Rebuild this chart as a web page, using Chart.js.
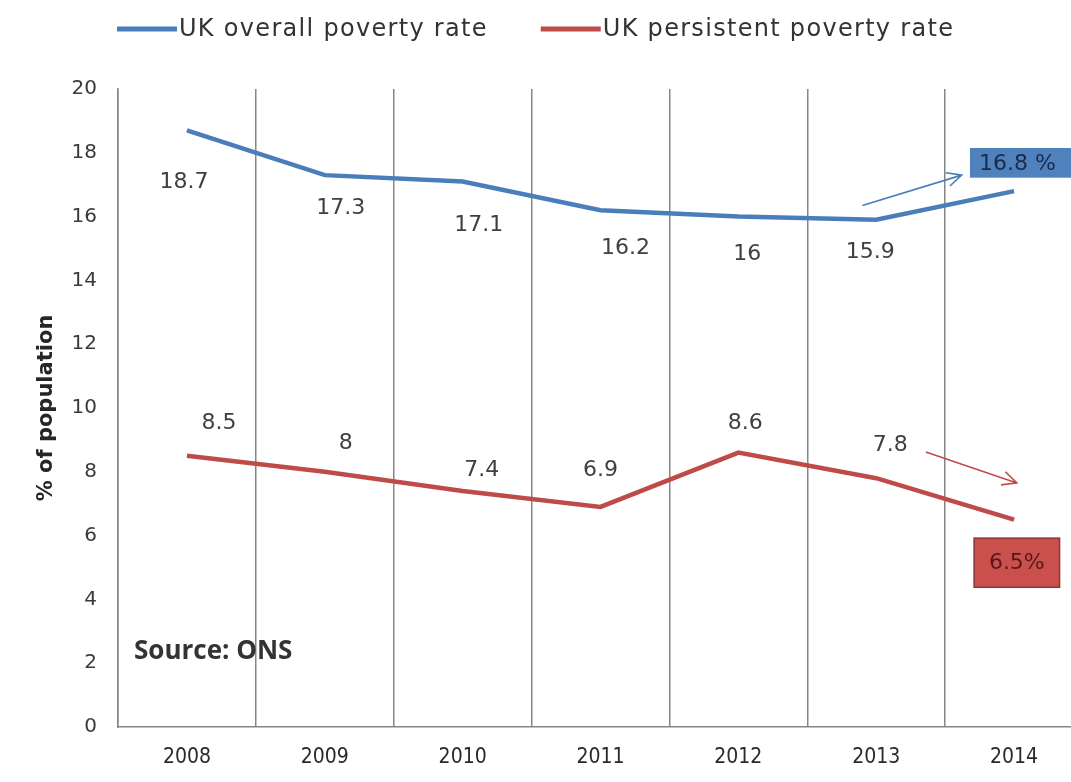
<!DOCTYPE html>
<html>
<head>
<meta charset="utf-8">
<title>UK poverty rates</title>
<script src="https://cdn.jsdelivr.net/npm/chart.js@4.4.1/dist/chart.umd.min.js"></script>
<style>
  body { margin: 0; background: #fff; overflow: hidden; }
  #wrap { width: 1090px; height: 782px; }
</style>
</head>
<body>
<div id="wrap"><canvas id="povertyChart" width="1090" height="782"></canvas></div>
<script>
// values
const years = ['2008', '2009', '2010', '2011', '2012', '2013', '2014']
const overallRate = [18.7, 17.3, 17.1, 16.2, 16, 15.9, 16.8]
const persistentRate = [8.5, 8, 7.4, 6.9, 8.6, 7.8, 6.5]
const yMin = 0
const yMax = 20
const yStep = 2

// label nudges (pixels) - excel labels were dragged by hand
const overallShift = [[-3, 52], [16, 33], [16, 44], [25, 38], [9, 38], [-6, 32], null]
const persistentShift = [[32, -33], [21, -29], [19, -21], [0, -37], [7, -29], [14, -33], null]

const BLUE = '#4a7ebb'
const RED = '#be4b48'
const GRID = '#868686'

function arrow(ctx, x1, y1, x2, y2, color){
    let ang = Math.atan2(y2 - y1, x2 - x1)
    let head = 16
    ctx.save()
    ctx.strokeStyle = color
    ctx.lineWidth = 1.6
    ctx.beginPath()
    ctx.moveTo(x1, y1)
    ctx.lineTo(x2, y2)
    ctx.moveTo(x2 - head * Math.cos(ang - 0.45), y2 - head * Math.sin(ang - 0.45))
    ctx.lineTo(x2, y2)
    ctx.lineTo(x2 - head * Math.cos(ang + 0.45), y2 - head * Math.sin(ang + 0.45))
    ctx.stroke()
    ctx.restore()
}

const extras = {
    id: 'extras',
    afterDatasetsDraw(chart){
        const ctx = chart.ctx
        const xs = chart.scales.x
        const ys = chart.scales.y
        const shifts = [overallShift, persistentShift]

        // value labels
        ctx.save()
        ctx.font = '22px "DejaVu Sans"'
        ctx.fillStyle = '#404040'
        ctx.textAlign = 'center'
        ctx.textBaseline = 'middle'
        chart.data.datasets.forEach(function(ds, d){
            let meta = chart.getDatasetMeta(d)
            meta.data.forEach(function(pt, i){
                let s = shifts[d][i]
                if(!s) return
                ctx.fillText(String(ds.data[i]), pt.x + s[0], pt.y + s[1])
            })
        })
        ctx.restore()

        // source note
        ctx.save()
        ctx.font = 'bold 26px "Open Sans"'
        ctx.fillStyle = '#333'
        ctx.textBaseline = 'middle'
        ctx.fillText('Source: ONS', chart.chartArea.left + 16, ys.getPixelForValue(2.36))
        ctx.restore()

        // arrows towards the 2014 call-outs
        arrow(ctx, xs.getPixelForValue(4.9), ys.getPixelForValue(16.35),
                   xs.getPixelForValue(5.62), ys.getPixelForValue(17.3), BLUE)
        arrow(ctx, xs.getPixelForValue(5.36), ys.getPixelForValue(8.62),
                   xs.getPixelForValue(6.02), ys.getPixelForValue(7.65), RED)

        // 2014 boxes
        let last = years.length - 1
        let bx = xs.getPixelForValue(5.68)
        let bt = ys.getPixelForValue(18.15)
        let bb = ys.getPixelForValue(17.22)
        ctx.save()
        ctx.fillStyle = '#4f81bd'
        ctx.fillRect(bx, bt, 120, bb - bt)
        ctx.font = '22px "DejaVu Sans"'
        ctx.fillStyle = '#1a2b4a'
        ctx.textBaseline = 'middle'
        ctx.fillText(overallRate[last] + ' %', bx + 9, (bt + bb) / 2 + 1)

        let rx1 = xs.getPixelForValue(5.71)
        let rx2 = xs.getPixelForValue(6.33)
        let rt = ys.getPixelForValue(5.92)
        let rb = ys.getPixelForValue(4.38)
        ctx.fillStyle = '#c9504d'
        ctx.strokeStyle = '#8e3432'
        ctx.lineWidth = 1.5
        ctx.fillRect(rx1, rt, rx2 - rx1, rb - rt)
        ctx.strokeRect(rx1, rt, rx2 - rx1, rb - rt)
        ctx.fillStyle = '#5a1717'
        ctx.textAlign = 'center'
        ctx.font = '22px "DejaVu Sans"'
        ctx.fillText(persistentRate[last] + '%', (rx1 + rx2) / 2, (rt + rb) / 2 + 1)
        ctx.restore()
    },
    afterDraw(chart){
        // legend as excel draws it: a short line then the name
        const ctx = chart.ctx
        let x = 117
        let y = 29
        ctx.save()
        ctx.font = '24px "DejaVu Sans", sans-serif'
        ctx.letterSpacing = '1.3px'
        ctx.textBaseline = 'middle'
        chart.data.datasets.forEach(function(ds){
            ctx.strokeStyle = ds.borderColor
            ctx.lineWidth = 5
            ctx.beginPath()
            ctx.moveTo(x, y)
            ctx.lineTo(x + 60, y)
            ctx.stroke()
            ctx.fillStyle = '#333'
            ctx.fillText(ds.label, x + 62, y + 1)
            x = x + 62 + ctx.measureText(ds.label).width + 53
        })
        ctx.restore()
    }
}

const ctx = document.getElementById('povertyChart').getContext('2d')
const povertyChart = new Chart(ctx, {
    type: 'line',
    data: {
        labels: years,
        datasets: [{
            label: 'UK overall poverty rate',
            data: overallRate,
            borderColor: BLUE,
            backgroundColor: BLUE,
            borderWidth: 4.5,
            pointRadius: 0,
            tension: 0
        }, {
            label: 'UK persistent poverty rate',
            data: persistentRate,
            borderColor: RED,
            backgroundColor: RED,
            borderWidth: 4.5,
            pointRadius: 0,
            tension: 0
        }]
    },
    options: {
        responsive: false,
        animation: false,
        devicePixelRatio: 1,
        layout: { padding: { top: 89, right: 7, left: 0, bottom: 0 } },
        plugins: {
            legend: { display: false },
            title: { display: false },
            tooltip: { enabled: false }
        },
        scales: {
            x: {
                offset: true,
                grid: { offset: true, color: GRID, lineWidth: 1.5, drawTicks: false },
                border: { color: GRID, width: 1.5 },
                ticks: { color: '#2a2a2a', font: { family: 'DejaVu Sans Condensed', size: 21 }, padding: 18 },
                afterFit: function(s){ s.height = 55 }
            },
            y: {
                min: yMin,
                max: yMax,
                grid: { display: false },
                border: { display: true, color: GRID, width: 1.5 },
                ticks: { stepSize: yStep, color: '#3a3a3a', font: { family: 'DejaVu Sans', size: 20 }, padding: 13 },
                title: {
                    display: true,
                    text: '% of population',
                    color: '#262626',
                    font: { family: 'DejaVu Sans', size: 21, weight: 'bold' },
                    padding: { top: 34, bottom: 0 }
                },
                afterFit: function(s){ s.width = 118 }
            }
        }
    },
    plugins: [extras]
})
console.log('drawn')
</script>
</body>
</html>
